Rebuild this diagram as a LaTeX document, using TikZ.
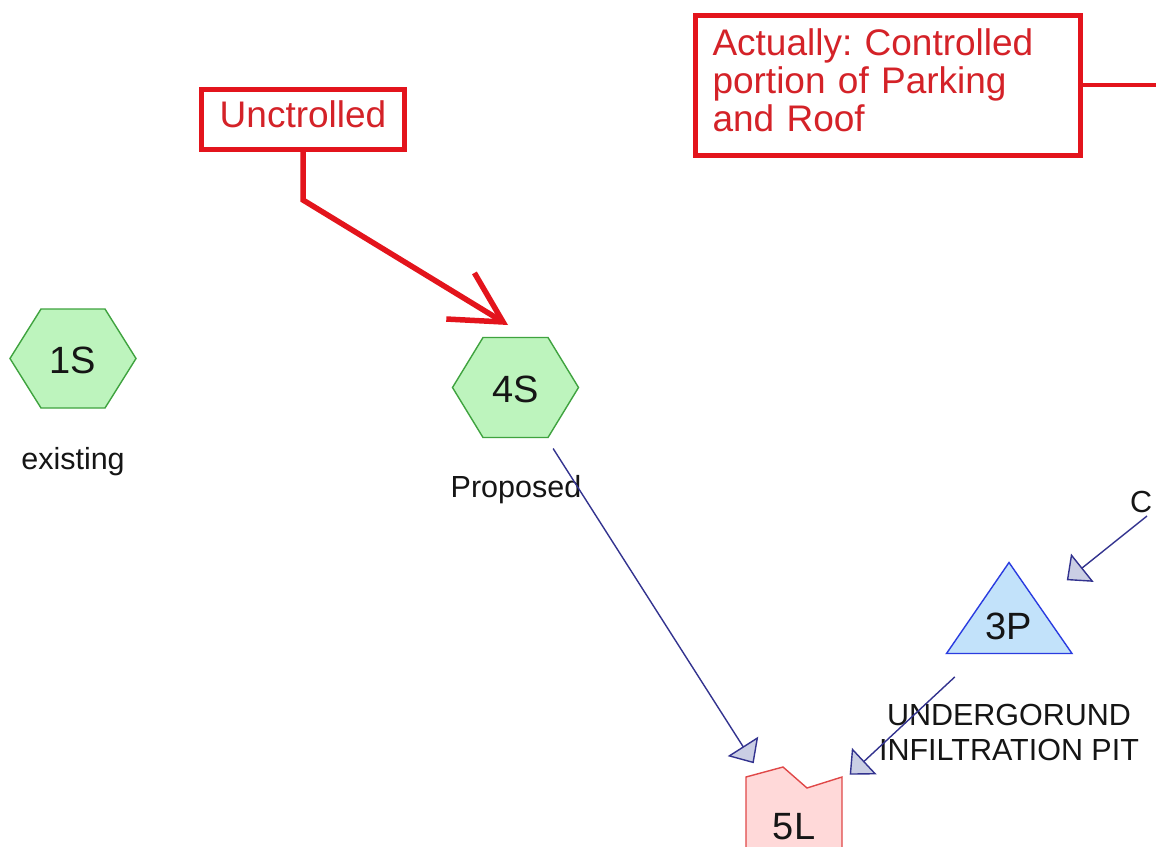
\documentclass[tikz,border=0pt]{standalone}
\usepackage{fontspec}
\setmainfont{Liberation Sans}
\usetikzlibrary{arrows.meta}
\definecolor{hexfill}{HTML}{BDF4BD}
\definecolor{hexdraw}{HTML}{3FA33F}
\definecolor{pondfill}{HTML}{C2E2FA}
\definecolor{ponddraw}{HTML}{2A3CE0}
\definecolor{linkfill}{HTML}{FFD9D9}
\definecolor{linkdraw}{HTML}{E04848}
\definecolor{flow}{HTML}{33338F}
\definecolor{headfill}{HTML}{CACEE4}
\definecolor{note}{HTML}{E3141C}
\definecolor{notetext}{HTML}{D42228}
\definecolor{ink}{HTML}{151515}
\frenchspacing
\begin{document}
\begin{tikzpicture}[x=1pt,y=-1pt,
  lbl/.style={text=ink, inner sep=0pt, font=\fontsize{38}{44}\selectfont},
  captext/.style={text=ink, inner sep=0pt, font=\fontsize{30.5}{35}\selectfont},
  hexshape/.style={fill=hexfill, draw=hexdraw, line width=1.4pt, line join=miter},
  pondshape/.style={fill=pondfill, draw=ponddraw, line width=1.4pt, line join=miter},
  linkshape/.style={fill=linkfill, draw=linkdraw, line width=1.4pt, line join=miter},
  flowline/.style={draw=flow, line width=1.4pt, -{Triangle[length=20pt,width=36pt,fill=headfill]}},
  notebox/.style={draw=note, line width=5pt, text=notetext, fill=white, font=\fontsize{37}{38}\selectfont},
  noteline/.style={draw=note, line width=5.5pt, line join=miter}
]
\useasboundingbox (0,0) rectangle (1156,846);
\clip (0,0) rectangle (1156,846);
\fill[white] (0,0) rectangle (1156,846);

% shapes
\draw[hexshape] (10,358.5) -- (41,309) -- (105,309) -- (136,358.5) -- (105,408) -- (41,408) -- cycle;
\draw[hexshape] (452.5,387.5) -- (483,337.5) -- (548,337.5) -- (578.5,387.5) -- (548,437.5) -- (483,437.5) -- cycle;
\draw[pondshape] (1009,562.5) -- (1072,653.5) -- (946.5,653.5) -- cycle;
\draw[linkshape] (746,880) -- (746,777) -- (783,767) -- (807,788) -- (842,777) -- (842,880) -- cycle;

% labels
\node[lbl] (1S) at (73,360) {1S};
\node[lbl] (4S) at (515.5,389.5) {4S};
\node[lbl] (3P) at (1009,626.5) {3P};
\node[lbl] (5L) at (794,826.5) {5L};
\node[captext, anchor=base] (ex) at (73,469) {existing};
\node[captext, anchor=base] (pr) at (516,497) {Proposed};
\node[captext, align=center, anchor=north] (ug) at (1009,704) {UNDERGORUND\\INFILTRATION PIT};
\node[captext, anchor=base west] (cc) at (1130,512) {C};

% notes
\node[notebox, minimum width=203pt, minimum height=60pt, inner sep=0pt] (unc) at (303,119.5) {Unctrolled\rule[-11pt]{0pt}{0pt}};
\node[notebox, anchor=north west, minimum width=385pt, minimum height=140pt, text width=350pt, inner xsep=17.5pt, inner ysep=0pt, align=left] (act) at (692.5,12.5) {Actually: Controlled\\portion of Parking\\and Roof\rule[-10pt]{0pt}{0pt}};

% note connectors
\coordinate (redtip) at (508,325);
\draw[noteline, -{Straight Barb[length=50pt,width=54pt]}] (unc.south) -- ++(0,48) -- (redtip);
\coordinate (actout) at (1170,82.5);
\draw[noteline, line width=4pt] (act.east) -- (act.east -| actout);

% flow connectors
\draw[flowline, shorten <=70pt, shorten >=75pt] (4S.center) -- (5L.center);
\draw[flowline, shorten <=74pt, shorten >=76pt] (3P.center) -- (5L.center);
\coordinate (srcC) at (1147,516);
\draw[flowline, shorten >=74pt] (srcC) -- (3P.center);
\end{tikzpicture}
\end{document}
